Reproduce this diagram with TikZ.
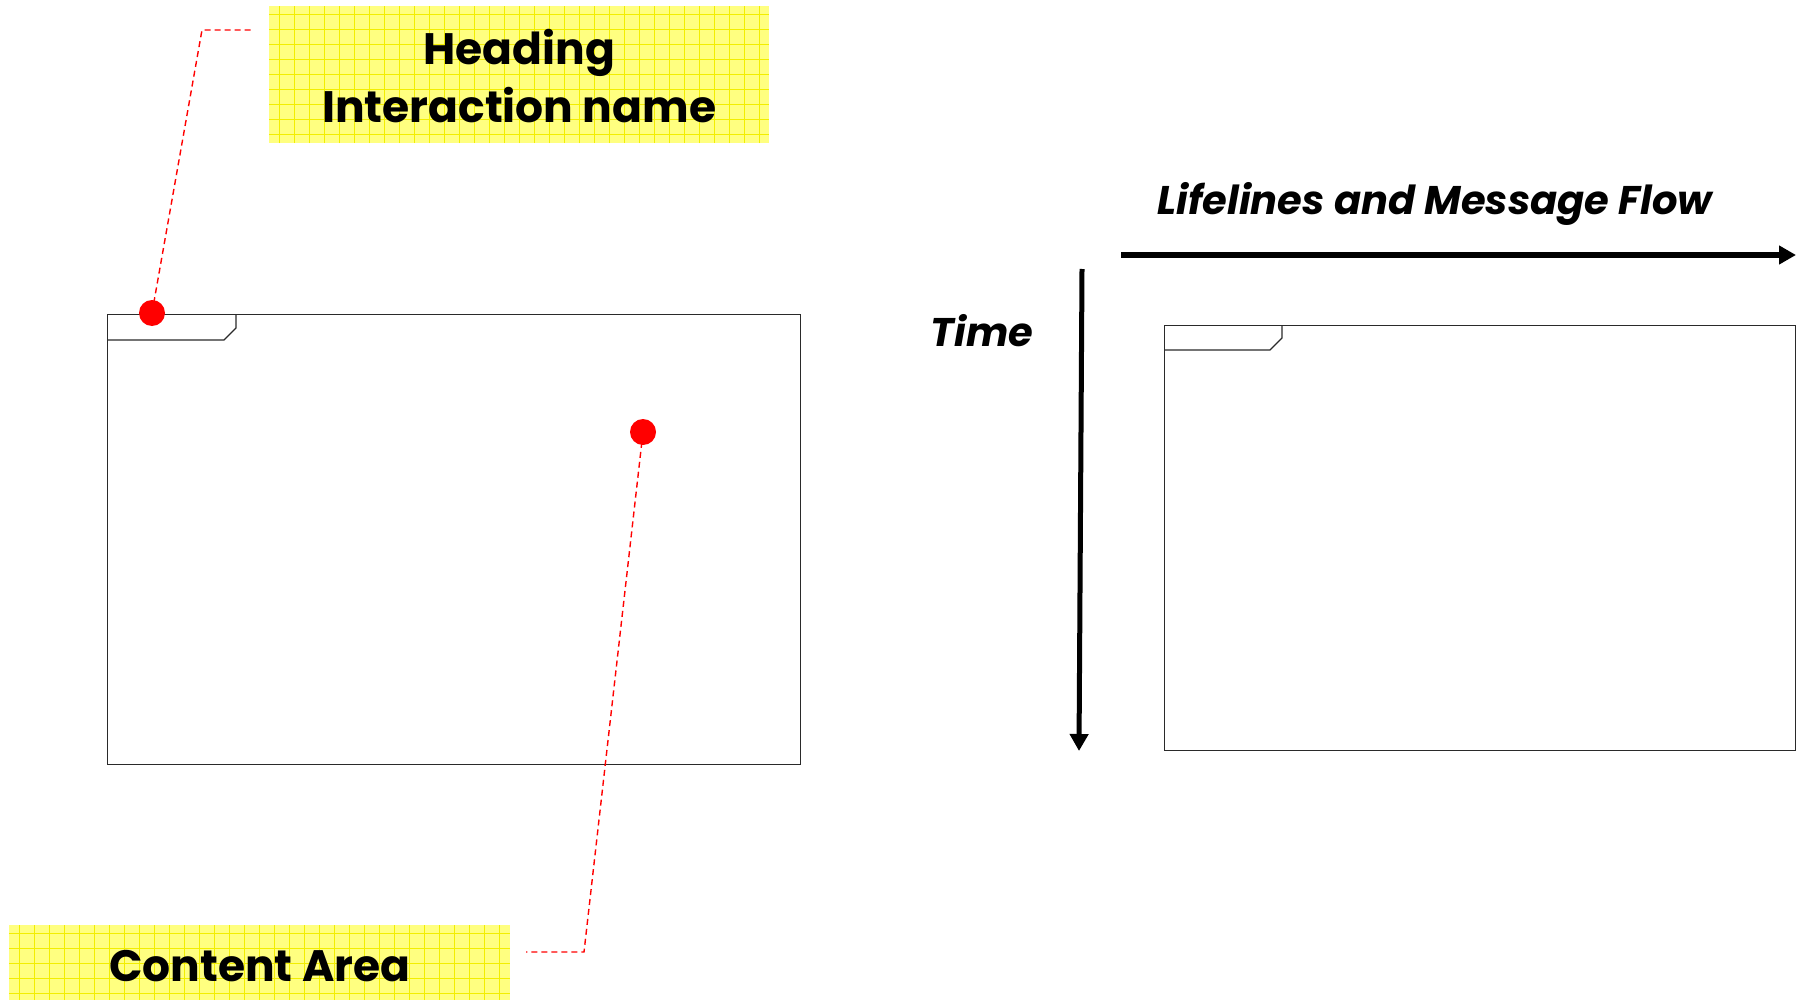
\documentclass[tikz,border=0pt]{standalone}
\usepackage{fontspec}
\setmainfont{Poppins}
\usetikzlibrary{arrows.meta,calc}
\definecolor{notefill}{HTML}{FFFF80}
\definecolor{notegrid}{HTML}{F2EE00}
\definecolor{pinred}{HTML}{FF0000}
\definecolor{framegray}{HTML}{2A2A2A}

\begin{document}
\begin{tikzpicture}[x=1pt,y=-1pt,
  note/.style={fill=notefill, inner sep=0pt, anchor=north west,
    path picture={\draw[notegrid, line width=0.5pt]
      (path picture bounding box.south west) grid[step=15pt]
      (path picture bounding box.north east);}},
  notetext/.style={font=\bfseries\fontsize{44}{58}\selectfont, align=center, inner sep=0pt},
  axistext/.style={font=\bfseries\itshape\fontsize{40}{48}\selectfont, inner sep=0pt},
  frame/.style={draw=framegray, line width=1.3pt, inner sep=0pt, anchor=north west},
  framepath/.style={draw=framegray, line width=1.3pt},
  pin/.style={circle, fill=pinred, inner sep=0pt, minimum size=26pt},
  leader/.style={draw=pinred, line width=1.4pt, dash pattern=on 6pt off 4pt},
  axis/.style={draw=black, line width=5.5pt, -{Triangle[length=17pt, width=18pt]}}
]
\useasboundingbox (0,0) rectangle (1803,1000);

% yellow notes
\node[note, minimum width=500pt, minimum height=137pt] (headnote) at (269,6) {};
\node[notetext] (headtext) at ($(headnote.center)+(0,1)$) {Heading\\Interaction name};
\node[note, minimum width=501pt, minimum height=76pt] (contnote) at (9,925) {};
\node[notetext] (conttext) at ($(contnote.center)+(0,3)$) {Content Area};

% left interaction frame with its heading tab
\node[frame, minimum width=693pt, minimum height=450pt] (lframe) at (107,314) {};
\draw[framepath] ($(lframe.north west)+(129,0)$) -- ++(0,14) -- ++(-12,12)
  -- ($(lframe.north west)+(0,26)$);

% right interaction frame with its heading tab
\node[frame, minimum width=631pt, minimum height=425pt] (rframe) at (1164,325) {};
\draw[framepath] ($(rframe.north west)+(118,0)$) -- ++(0,13) -- ++(-12,12)
  -- ($(rframe.north west)+(0,25)$);

% pins and leader lines
\node[pin] (headpin) at (152,313) {};
\node[pin] (contpin) at (643,432) {};
\coordinate (headbend) at (202,30);
\coordinate (headend) at (254,30);
\coordinate (contbend) at (584,952);
\coordinate (contend) at (526,952);
\draw[leader] (headpin.center) -- (headbend) -- (headend);
\draw[leader] (contpin.center) -- (contbend) -- (contend);

% axes
\node[axistext] (flowtext) at (1435,204) {Lifelines and Message Flow};
\node[axistext] (timetext) at (982,331) {Time};
\coordinate (flowstart) at (1121,255);
\coordinate (flowend) at (1796,255);
\coordinate (timestart) at (1082,269);
\coordinate (timeend) at (1079,751);
\draw[axis] (flowstart) -- (flowend);
\draw[axis, line width=5pt] (timestart) -- (timeend);
\end{tikzpicture}
\end{document}
